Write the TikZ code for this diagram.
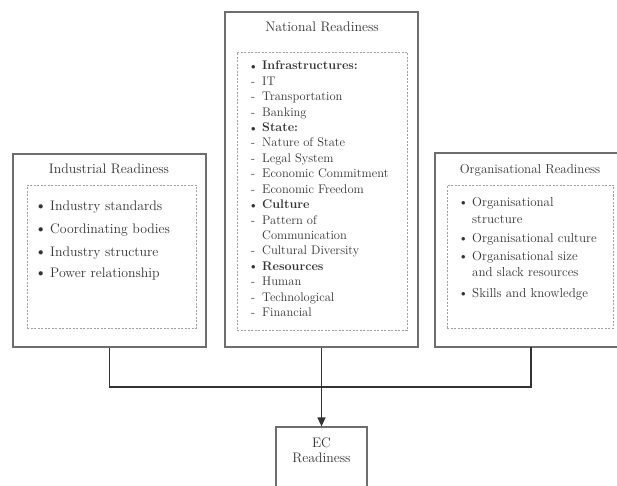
\documentclass[tikz,border=0pt]{standalone}
\usepackage{fontspec}
\usetikzlibrary{arrows.meta}
\definecolor{txt}{HTML}{333333}
\definecolor{boxline}{HTML}{6E6E6E}
\definecolor{dashline}{HTML}{A0A0A0}
\newcommand{\smbul}{\raisebox{0.5pt}{\scalebox{0.75}{$\bullet$}}}
\begin{document}
\begin{tikzpicture}[x=1pt,y=-1pt,
  outer/.style={draw=boxline,line width=1.2pt,rectangle,inner sep=0pt},
  inner/.style={draw=dashline,line width=0.8pt,dash pattern=on 2pt off 1.5pt,rectangle,inner sep=0pt},
  lbl/.style={text=txt,inner sep=0pt,font=\fontsize{12.5}{14}\selectfont\addfontfeatures{LetterSpace=7}},
  big/.style={font=\fontsize{13.8}{15}\selectfont\addfontfeatures{LetterSpace=7}},
  mid/.style={font=\fontsize{13}{15}\selectfont\addfontfeatures{LetterSpace=7}},
  item/.style={lbl,anchor=base west},
  ttl/.style={lbl,big,anchor=base},
  conn/.style={draw=black!80,line width=1.3pt}]
\useasboundingbox (0,0) rectangle (617,486);
\clip (0,0) rectangle (617,486);
% outer boxes
\node[outer,minimum width=193pt,minimum height=193pt] (ind) at (109.5,250.5) {};
\node[outer,minimum width=193pt,minimum height=335pt] (nat) at (321.5,179.5) {};
\node[outer,minimum width=190pt,minimum height=194pt] (org) at (530,250) {};
\node[outer,minimum width=91pt,minimum height=70pt] (ec) at (321.5,462) {};
% inner dashed boxes
\node[inner,minimum width=169pt,minimum height=143pt] (indin) at (111.5,256.5) {};
\node[inner,minimum width=170pt,minimum height=278pt] (natin) at (322,191) {};
\node[inner,minimum width=166pt,minimum height=143pt] (orgin) at (530,256.5) {};
% titles
\node[ttl] (indt) at (109,174) {Industrial Readiness};
\node[ttl] (natt) at (322,32) {National Readiness};
\node[ttl,mid] (orgt) at (530,174) {Organisational Readiness};
\node[ttl] (ect1) at (321.5,447) {EC};
\node[ttl] (ect2) at (321.5,462) {Readiness};
% industrial items
\foreach \i/\y/\t in {1/210/Industry standards,2/233/Coordinating bodies,3/256/Industry structure,4/277/Power relationship}{
  \node[item,big] (indb\i) at (38,\y) {\smbul};
  \node[item,big] (indi\i) at (50,\y) {\t};
}
% national items
\foreach \i/\m/\t [evaluate=\i as \y using 70+15.4*(\i-1)] in {
  1/b/\textbf{Infrastructures:},2/d/IT,3/d/Transportation,4/d/Banking,
  5/b/\textbf{State:},6/d/Nature of State,7/d/Legal System,8/d/Economic Commitment,
  9/d/Economic Freedom,10/b/\textbf{Culture},11/d/Pattern of,12/n/Communication,
  13/d/Cultural Diversity,14/b/\textbf{Resources},15/d/Human,16/d/Technological,17/d/Financial}{
  \if b\m \node[item] (natm\i) at (251,\y) {\smbul};\fi
  \if d\m \node[item] (natm\i) at (251,\y) {-};\fi
  \node[item] (nati\i) at (262,\y) {\t};
}
% organisational items
\foreach \i/\y in {1/206,3/242,4/260,6/297}{
  \node[item,mid] (orgb\i) at (461,\y) {\smbul};
}
\foreach \i/\y/\t in {1/206/Organisational,2/223/structure,3/242/Organisational culture,4/260/Organisational size,5/276/and slack resources,6/297/Skills and knowledge}{
  \node[item,mid] (orgi\i) at (472,\y) {\t};
}
% connectors
\coordinate (jl) at (ind.south |- 0,387);
\coordinate (jr) at (531,387);
\coordinate (orgs) at (531,347);
\draw[conn] (ind.south) -- (jl) -- (jr) -- (orgs);
\draw[conn,-{Triangle[length=9pt,width=8pt]}] (nat.south) -- (ec.north);
\end{tikzpicture}
\end{document}
